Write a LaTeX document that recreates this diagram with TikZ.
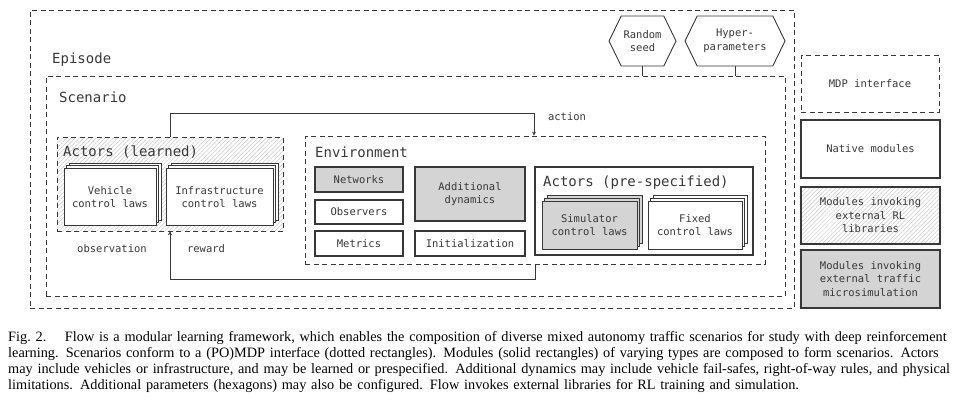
\documentclass[tikz,border=0pt]{standalone}
\usepackage{fontspec}
\setmainfont{Liberation Serif}
\newfontfamily\dmono{DejaVu Sans Mono}
\usetikzlibrary{shapes.symbols,shadows,patterns,patterns.meta,arrows.meta}
\definecolor{ln}{HTML}{383838}
\definecolor{gf}{HTML}{D4D4D4}
\definecolor{hc}{HTML}{C8C8C8}
\newcommand{\capline}[1]{\makebox[958pt][s]{#1}}
\tikzset{
  sm/.style={font=\dmono\fontsize{10.5}{13.5}\selectfont, text=ln},
  lg/.style={font=\dmono\fontsize{14}{16}\selectfont, text=ln},
  box/.style={draw=ln, line width=1.1pt, fill=white, inner sep=0pt, sm, align=center},
  gbox/.style={box, fill=gf},
  dbox/.style={draw=ln, line width=0.9pt, dash pattern=on 5pt off 3.5pt, inner sep=0pt},
  hatch/.style={pattern={Lines[angle=45,distance=3pt,line width=0.5pt]}, pattern color=hc},
  stack/.style={line width=0.9pt, double copy shadow={shadow xshift=2.6pt, shadow yshift=2.6pt}},
  hexa/.style={draw=ln, line width=0.9pt, fill=white, shape=signal, signal to=east and west, signal pointer angle=128, inner sep=0pt, sm, align=center},
  lab/.style={inner sep=0pt},
  arr/.style={draw=ln, line width=1pt, -{Stealth[length=4pt,width=4pt]}},
  ln1/.style={draw=ln, line width=1pt}
}
\begin{document}
\begin{tikzpicture}[x=1pt,y=-1pt]
\useasboundingbox (0,0) rectangle (974,400);
% outer containers
\node[dbox, minimum width=764, minimum height=298] (epi) at (412,159) {};
\node[dbox, minimum width=739, minimum height=220] (scen) at (415.5,186) {};
\node[lab, lg, anchor=west] (epilab) at (52,60) {Episode};
\node[lab, lg, anchor=west] (scenlab) at (59,97) {Scenario};
% hexagons
\node[hexa, minimum width=67, minimum height=50] (seed) at (642.5,41) {Random\\seed};
\node[hexa, minimum width=100, minimum height=50] (hyper) at (735,41) {Hyper-\\parameters};
\draw[ln1] (seed.south) -- (scen.north -| seed.south);
\draw[ln1] (hyper.south) -- (scen.north -| hyper.south);
% actors learned
\node[dbox, hatch, minimum width=226, minimum height=94] (actl) at (170,184) {};
\node[lab, lg, anchor=west] (actllab) at (63,152) {Actors (learned)};
\node[box, stack, minimum width=92, minimum height=57] (veh) at (110,197) {Vehicle\\control laws};
\node[box, stack, minimum width=107, minimum height=57] (infra) at (219.5,197) {Infrastructure\\control laws};
\node[lab, sm] (obs) at (112,249) {observation};
\node[lab, sm] (rew) at (206,249) {reward};
% environment
\node[dbox, minimum width=460, minimum height=128] (env) at (535,200) {};
\node[lab, lg, anchor=west] (envlab) at (315,152) {Environment};
\node[gbox, minimum width=88, minimum height=25] (net) at (359,179.5) {Networks};
\node[box, minimum width=88, minimum height=24] (obsv) at (359,212) {Observers};
\node[box, minimum width=88, minimum height=25] (met) at (359,243.5) {Metrics};
\node[gbox, minimum width=110, minimum height=54] (adyn) at (470,194) {Additional\\dynamics};
\node[box, minimum width=110, minimum height=25] (init) at (470,243.5) {Initialization};
\node[box, minimum width=218, minimum height=88] (actp) at (644,211) {};
\node[lab, lg, anchor=west] (actplab) at (543,183) {Actors (pre-specified)};
\node[gbox, stack, minimum width=95, minimum height=48] (sim) at (589.5,225) {Simulator\\control laws};
\node[box, stack, minimum width=94, minimum height=48] (fix) at (695,225) {Fixed\\control laws};
% connectors
\coordinate (a1) at (170,113);
\coordinate (a2) at (534,113);
\draw[arr] (actl.north -| a1) -- (a1) -- (a2) -- (env.north -| a2);
\node[lab, sm] (actlab) at (567,117) {action};
\coordinate (r1) at (535,279);
\coordinate (r2) at (170,279);
\draw[arr] (env.south -| r1) -- (r1) -- (r2) -- (actl.south -| r2);
% legend
\node[dbox, sm, align=center, minimum width=138, minimum height=57] (mdp) at (870,83.5) {MDP interface};
\node[box, minimum width=139, minimum height=58] (nat) at (870.5,149) {Native modules};
\node[box, hatch, minimum width=139, minimum height=57] (rl) at (870.5,215.5) {Modules invoking\\external RL\\libraries};
\node[gbox, minimum width=139, minimum height=58] (tr) at (870.5,279) {Modules invoking\\external traffic\\microsimulation};
% caption
\node[anchor=north west, text width=958pt, inner sep=0pt, align=left, font=\fontsize{14.3}{16.1}\selectfont] (cap) at (8,331) {%
\capline{Fig.~2.\hspace{1.3em}Flow is a modular learning framework, which enables the composition of diverse mixed autonomy traffic scenarios for study with deep reinforcement}\\
\capline{learning. Scenarios conform to a (PO)MDP interface (dotted rectangles). Modules (solid rectangles) of varying types are composed to form scenarios. Actors}\\
\capline{may include vehicles or infrastructure, and may be learned or prespecified. Additional dynamics may include vehicle fail-safes, right-of-way rules, and physical}\\
limitations. Additional parameters (hexagons) may also be configured. Flow invokes external libraries for RL training and simulation.};
\end{tikzpicture}
\end{document}
